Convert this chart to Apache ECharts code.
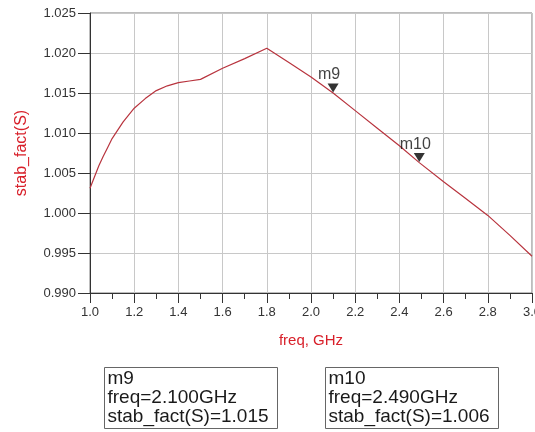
<!DOCTYPE html>
<html>
<head>
<meta charset="utf-8">
<script src="https://cdn.jsdelivr.net/npm/echarts@6/dist/echarts.min.js"></script>
<style>
  html, body { margin: 0; padding: 0; background: #fff; }
  #main { width: 535px; height: 432px; }
</style>
</head>
<body>
<div id="main"></div>
<script>
// stability factor vs frequency
var freq = [1.0, 1.02, 1.04, 1.06, 1.08, 1.1, 1.15, 1.2, 1.25, 1.3, 1.35, 1.4, 1.45, 1.5,
            1.6, 1.7, 1.8, 1.9, 2.0, 2.1, 2.2, 2.3, 2.4, 2.49, 2.6, 2.7, 2.8, 2.9, 3.0];
var stabFact = [1.0031, 1.0045, 1.0059, 1.0071, 1.0082, 1.0093, 1.0114, 1.0131, 1.0143, 1.0153,
                1.0159, 1.0163, 1.0165, 1.0167, 1.0181, 1.0193, 1.0206, 1.0188, 1.0170, 1.0150,
                1.0128, 1.0106, 1.0084, 1.0063, 1.0039, 1.0018, 0.9997, 0.9972, 0.9946];

var markerNames = ['m9', 'm10'];
var markerFreq = [2.1, 2.49];
var markerValue = [1.015, 1.006];

var yMin = 0.990, yMax = 1.025, yStep = 0.005;
var xMin = 1.0, xMax = 3.0, xStep = 0.2;

var FONT = '"Liberation Sans", Arial, sans-serif';
var RED = '#d8202a';

var lineData = [];
for (var i = 0; i < freq.length; i++) {
    lineData.push([freq[i], stabFact[i]]);
}

// markers sit on the trace
var markerData = [];
for (var k = 0; k < markerNames.length; k++) {
    var idx = freq.indexOf(markerFreq[k]);
    markerData.push({name: markerNames[k], value: [markerFreq[k], stabFact[idx]]});
}

function readoutBox(left, k) {
    var txt = markerNames[k] + '\nfreq=' + markerFreq[k].toFixed(3) + 'GHz\nstab_fact(S)=' + markerValue[k].toFixed(3);
    return {
        type: 'group',
        left: left,
        top: 367,
        children: [
            {type: 'rect', shape: {x: 0, y: 0, width: 173, height: 61},
             style: {fill: '#fff', stroke: '#666', lineWidth: 1}},
            {type: 'text', left: 3, top: 2,
             style: {text: txt, font: '19px ' + FONT, fill: '#1a1a1a', lineHeight: 19}}
        ]
    };
}

var chart = echarts.init(document.getElementById('main'));
var option = {
    animation: false,
    grid: {
        left: 90, right: 3, top: 13, bottom: 139,
        outerBoundsMode: 'none',
        containLabel: false,
        show: true, borderColor: '#7a7a7a', borderWidth: 1
    },
    xAxis: {
        type: 'value',
        min: xMin, max: xMax, interval: xStep,
        name: 'freq, GHz',
        nameLocation: 'middle',
        nameGap: 40,
        nameTextStyle: {color: RED, fontFamily: FONT, fontSize: 15},
        axisLine: {show: true, lineStyle: {color: '#333', width: 1}},
        axisTick: {show: true, inside: false, length: 10, lineStyle: {color: '#333'}},
        minorTick: {show: true, splitNumber: 2, length: 6, lineStyle: {color: '#333'}},
        axisLabel: {
            margin: 13, color: '#333', fontFamily: FONT, fontSize: 13,
            hideOverlap: false,
            formatter: function (v) { return v.toFixed(1); }
        },
        splitLine: {show: true, lineStyle: {color: '#c8c8c8', width: 1}}
    },
    yAxis: {
        type: 'value',
        min: yMin, max: yMax, interval: yStep,
        name: 'stab_fact(S)',
        nameLocation: 'middle',
        nameGap: 60,
        nameTextStyle: {color: RED, fontFamily: FONT, fontSize: 16},
        axisLine: {show: true, lineStyle: {color: '#333', width: 1}},
        axisTick: {show: true, inside: false, length: 12, lineStyle: {color: '#333'}},
        axisLabel: {
            margin: 14, color: '#333', fontFamily: FONT, fontSize: 13,
            formatter: function (v) { return v.toFixed(3); }
        },
        splitLine: {show: true, lineStyle: {color: '#c8c8c8', width: 1}}
    },
    series: [
        {
            name: 'stab_fact(S)',
            type: 'line',
            data: lineData,
            showSymbol: false,
            smooth: false,
            lineStyle: {color: '#b8343e', width: 1.2}
        },
        {
            name: 'markers',
            type: 'scatter',
            data: markerData,
            symbol: 'triangle',
            symbolRotate: 180,
            symbolSize: [11, 9],
            symbolOffset: [0, -5],
            itemStyle: {color: '#000'},
            label: {
                show: true,
                position: 'top',
                distance: 1,
                offset: [-4, 0],
                formatter: '{b}',
                color: '#111',
                fontFamily: FONT,
                fontSize: 16
            },
            z: 5
        }
    ],
    graphic: [readoutBox(104, 0), readoutBox(325, 1)]
};
chart.setOption(option);
</script>
</body>
</html>
